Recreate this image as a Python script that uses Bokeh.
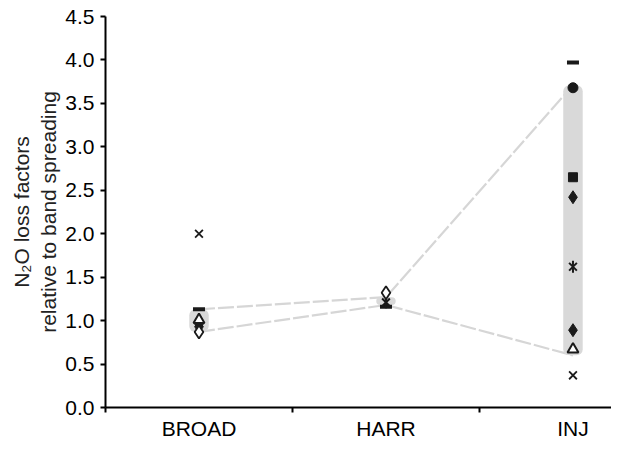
import math
from bokeh.plotting import figure
from bokeh.models import FixedTicker, NumeralTickFormatter
from bokeh.embed import file_html
from bokeh.resources import INLINE

nan = float("nan")

categories = ["BROAD", "HARR", "INJ"]
cat_x = [0.5, 1.5, 2.5]

# band (range) per category
band_low = [0.87, 1.18, 0.60]
band_high = [1.13, 1.27, 3.71]

# series values per category (BROAD, HARR, INJ)
dash_vals = [1.13, 1.16, 3.97]
circle_vals = [nan, nan, 3.68]
square_vals = [nan, nan, 2.65]
diamond_vals = [0.96, nan, 2.42]
star_vals = [nan, 1.21, 1.62]
diamond2_vals = [0.93, nan, 0.89]
triangle_vals = [1.01, nan, 0.67]
x_vals = [2.00, nan, 0.37]
open_diamond_vals = [0.87, 1.32, nan]

FONT = "Liberation Sans"
INK = "#1a1a1a"

p = figure(width=611, height=442, output_backend="svg", toolbar_location=None,
           x_range=(0, 2.706), y_range=(0, 4.5),
           min_border_left=105, min_border_right=0, min_border_top=16, min_border_bottom=32)
p.outline_line_color = None
p.xgrid.grid_line_color = None
p.ygrid.grid_line_color = None
p.background_fill_color = "white"

# connecting lines
p.line(cat_x, band_high, line_color="#d6d6d6", line_width=2.2, line_dash="16 3")
p.line(cat_x, band_low, line_color="#d6d6d6", line_width=2.2, line_dash="16 3")

# bands
bw = 0.052
p.quad(left=[c - bw for c in cat_x], right=[c + bw for c in cat_x],
       bottom=band_low, top=band_high, fill_color="#d9d9d9", line_color=None,
       border_radius=6)

xs = cat_x
p.scatter(xs, dash_vals, marker="dash", size=12, line_color=INK, line_width=4)
p.scatter(xs, circle_vals, marker="circle", size=10, fill_color=INK, line_color=INK)
p.scatter(xs, square_vals, marker="square", size=9, fill_color=INK, line_color=INK)
p.scatter(xs, diamond_vals, marker="diamond", size=13, fill_color=INK, line_color=INK)
p.scatter(xs, diamond2_vals, marker="diamond", size=13, fill_color=INK, line_color=INK)
p.scatter(xs, star_vals, marker="x", size=11, line_color=INK, line_width=2)
p.scatter(xs, star_vals, marker="dash", angle=math.pi / 2, size=12, line_color=INK, line_width=2)
p.scatter(xs, triangle_vals, marker="triangle", size=11, fill_color="white", line_color=INK, line_width=2)
p.scatter(xs, x_vals, marker="x", size=11, line_color=INK, line_width=1.8)
p.scatter(xs, open_diamond_vals, marker="diamond", size=13, fill_color="white", line_color=INK, line_width=1.8)

# axes
p.xaxis.ticker = FixedTicker(ticks=cat_x, minor_ticks=[0, 1, 2])
p.xaxis.major_label_overrides = {0.5: "BROAD", 1.5: "HARR", 2.5: "INJ"}
p.xaxis.major_tick_out = 0
p.xaxis.major_tick_in = 0
p.xaxis.minor_tick_out = 5
p.xaxis.minor_tick_in = 0
p.xaxis.major_label_standoff = 4

p.yaxis.ticker = FixedTicker(ticks=[i * 0.5 for i in range(10)])
p.yaxis.formatter = NumeralTickFormatter(format="0.0")
p.yaxis.major_tick_out = 5
p.yaxis.major_tick_in = 0
p.yaxis.major_label_standoff = 6
p.yaxis.axis_label = "N\u2082O loss factors\nrelative to band spreading"
p.yaxis.axis_label_standoff = 2

for ax in (p.xaxis, p.yaxis):
    ax.axis_line_color = "black"
    ax.axis_line_width = 2
    ax.major_tick_line_color = "black"
    ax.major_tick_line_width = 2
    ax.minor_tick_line_color = "black"
    ax.minor_tick_line_width = 2
    ax.major_label_text_font = FONT
    ax.major_label_text_font_size = "21px"
    ax.major_label_text_color = "black"
    ax.axis_label_text_font = FONT
    ax.axis_label_text_font_size = "21px"
    ax.axis_label_text_font_style = "normal"
    ax.axis_label_text_color = "#222222"
p.yaxis.minor_tick_line_color = None

open("out.html", "w").write(file_html(p, INLINE))
